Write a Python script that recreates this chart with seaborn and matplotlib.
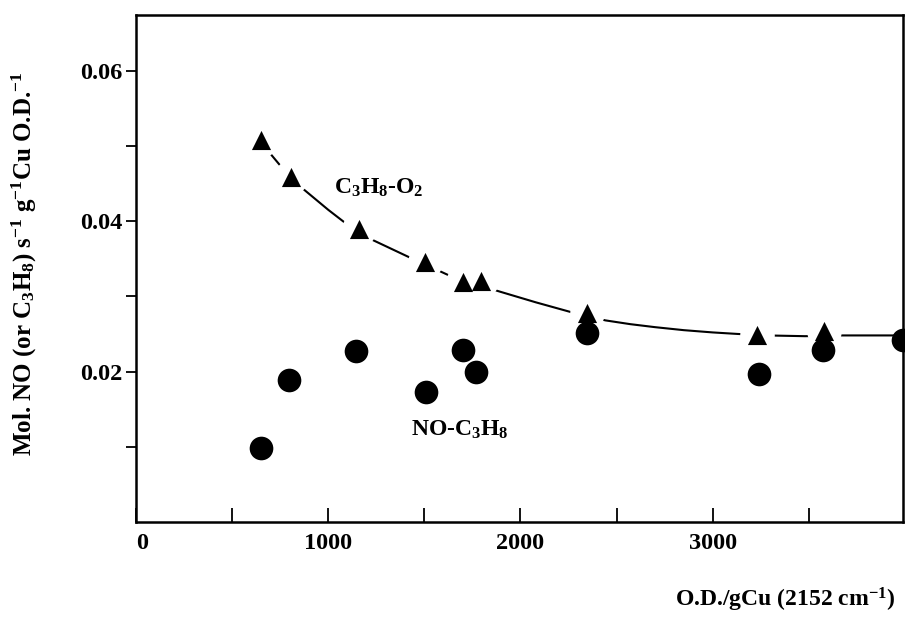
import numpy as np
import pandas as pd
import seaborn as sns
import matplotlib.pyplot as plt
from matplotlib.ticker import FixedLocator

# C3H8-O2 (triangulos)
tri_x = [649, 805, 1160, 1503, 1702, 1797, 2346, 3233, 3579]
tri_y = [0.0508, 0.0459, 0.0389, 0.0346, 0.0319, 0.0321, 0.0278, 0.0248, 0.0254]

# NO-C3H8 (circulos)
circ_x = [649, 795, 1143, 1506, 1702, 1771, 2346, 3243, 3576, 3990]
circ_y = [0.0099, 0.0189, 0.0227, 0.0173, 0.0228, 0.0200, 0.0251, 0.0197, 0.0229, 0.0242]

# curva ajustada
curva_x = [649, 691, 753, 873, 1000, 1081, 1230, 1429, 1567, 1652, 1780, 1896, 2080, 2263,
           2442, 2571, 2700, 2850, 3000, 3128, 3281, 3481, 3662, 3990]
curva_y = [0.0508, 0.0492, 0.0473, 0.0442, 0.0415, 0.0399, 0.0375, 0.0351, 0.0335, 0.0325,
           0.0315, 0.0306, 0.0292, 0.0279, 0.0268, 0.0263, 0.0259, 0.0255, 0.0252, 0.0250,
           0.0248, 0.0247, 0.0248, 0.0248]

df_tri = pd.DataFrame({'od': tri_x, 'taxa': tri_y})
df_circ = pd.DataFrame({'od': circ_x, 'taxa': circ_y})
df_curva = pd.DataFrame({'od': curva_x, 'taxa': curva_y})

sns.set_style("ticks")
plt.rcParams['font.family'] = ['Liberation Serif', 'DejaVu Serif']
plt.rcParams['font.weight'] = 'bold'
plt.rcParams['mathtext.fontset'] = 'custom'
plt.rcParams['mathtext.rm'] = 'Liberation Serif:bold'
plt.rcParams['mathtext.it'] = 'Liberation Serif:bold'
plt.rcParams['mathtext.bf'] = 'Liberation Serif:bold'
plt.rcParams['mathtext.default'] = 'rm'
for k in ['axes.edgecolor', 'xtick.color', 'ytick.color', 'text.color', 'axes.labelcolor']:
    plt.rcParams[k] = 'black'

fig = plt.figure(figsize=(9.05, 6.17), dpi=100)
ax = fig.add_axes([0.1503, 0.154, 0.8475, 0.8217])

sns.lineplot(data=df_curva, x='od', y='taxa', sort=False, color='black', lw=1.5, ax=ax, zorder=1)
# halo branco que corta a curva em volta dos triangulos
ax.scatter(tri_x, tri_y, s=620, color='white', marker='o', linewidths=0, zorder=2)
sns.scatterplot(data=df_tri, x='od', y='taxa', marker='^', s=190, color='black',
                edgecolor='black', linewidth=0, ax=ax, zorder=3)
sns.scatterplot(data=df_circ, x='od', y='taxa', marker='o', s=290, color='black',
                edgecolor='black', linewidth=0, ax=ax, zorder=4, clip_on=False)

ax.set_xlim(0, 3990)
ax.set_ylim(0, 0.0674)

ax.xaxis.set_major_locator(FixedLocator([0, 1000, 2000, 3000]))
ax.xaxis.set_minor_locator(FixedLocator([500, 1500, 2500, 3500]))
ax.yaxis.set_major_locator(FixedLocator([0.02, 0.04, 0.06]))
ax.yaxis.set_minor_locator(FixedLocator([0.01, 0.03, 0.05]))
ax.set_xticklabels(['0', '1000', '2000', '3000'])
ax.set_yticklabels(['0.02', '0.04', '0.06'])
ax.get_xticklabels()[0].set_horizontalalignment('left')

ax.tick_params(axis='x', which='both', direction='in', length=10, width=1.3,
               labelsize=17.5, pad=8)
ax.tick_params(axis='y', which='both', direction='out', length=7, width=1.3,
               labelsize=17.5, pad=3)
for s in ax.spines.values():
    s.set_linewidth(1.8)

ax.set_xlabel('O.D./gCu (2152 cm$^{-1}$)', fontsize=17, fontweight='bold',
              ha='right', va='center')
ax.xaxis.set_label_coords(0.99, -0.153)
ax.set_ylabel('Mol. NO (or C$_3$H$_8$) s$^{-1}$ g$^{-1}$Cu O.D.$^{-1}$', fontsize=18,
              fontweight='bold', va='center')
ax.yaxis.set_label_coords(-0.145, 0.51)

ax.text(1029, 0.0444, 'C$_3$H$_8$-O$_2$', fontsize=17, fontweight='bold', va='center')
ax.text(1429, 0.0123, 'NO-C$_3$H$_8$', fontsize=17, fontweight='bold', va='center')

fig.savefig('out.png', dpi=100)
